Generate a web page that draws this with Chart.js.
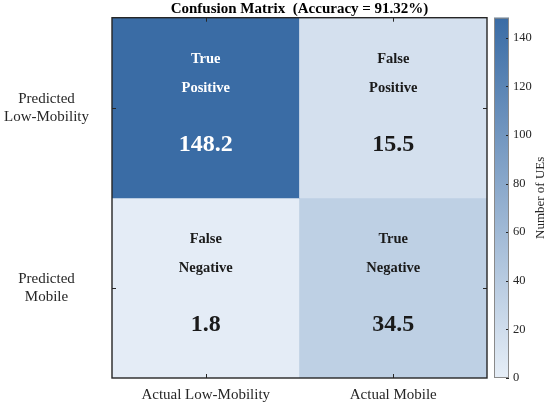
<!DOCTYPE html>
<html>
<head>
<meta charset="utf-8">
<script src="https://cdn.jsdelivr.net/npm/chart.js@4/dist/chart.umd.min.js"></script>
<style>
  html, body { margin: 0; padding: 0; background: #ffffff; }
  #wrap { width: 550px; height: 405px; position: relative; }
</style>
</head>
<body>
<div id="wrap"><canvas id="c" width="550" height="405"></canvas></div>
<script>
// ---- data ----
const chartTitle = 'Confusion Matrix  (Accuracy = 91.32%)';
const actualLabels = ['Actual Low-Mobility', 'Actual Mobile'];
const predictedLabels = [['Predicted', 'Low-Mobility'], ['Predicted', 'Mobile']];
const rowLowMobilityValues = [148.2, 15.5];
const rowMobileValues = [1.8, 34.5];
const rowLowMobilityNames = [['True', 'Positive'], ['False', 'Positive']];
const rowMobileNames = [['False', 'Negative'], ['True', 'Negative']];
const colorbarTicks = [0, 20, 40, 60, 80, 100, 120, 140];
const colorbarMin = 0;
const colorbarMax = 148.2;
const colorbarLabel = 'Number of UEs';

// ---- styles ----
const SERIF = "'Liberation Serif', 'Times New Roman', serif";
const LOW = [230, 238, 247];
const HIGH = [58, 108, 165];
const INK = '#262626';

function cmap(v) {
  const t = Math.max(0, Math.min(1, (v - colorbarMin) / (colorbarMax - colorbarMin)));
  const c = LOW.map((l, k) => Math.round(l + (HIGH[k] - l) * t));
  return `rgb(${c[0]},${c[1]},${c[2]})`;
}

const rows = [
  { values: rowLowMobilityValues, names: rowLowMobilityNames },
  { values: rowMobileValues, names: rowMobileNames }
];

const datasets = rows.map((row, r) => ({
  label: predictedLabels[r].join(' '),
  data: row.values.map((v, i) => ({ x: actualLabels[i], y: [r, r + 1], v: v, names: row.names[i] })),
  backgroundColor: row.values.map(v => cmap(v)),
  borderWidth: 0,
  barPercentage: 1.0,
  categoryPercentage: 1.0,
  grouped: false
}));

function noPadV(s) { s.paddingTop = 0; s.paddingBottom = 0; }

const overlay = {
  id: 'overlay',
  afterDatasetsDraw(chart) {
    const ctx = chart.ctx;
    const a = chart.chartArea;
    const xs = chart.scales.x, ys = chart.scales.y, cb = chart.scales.cb;
    ctx.save();
    // cell texts
    chart.data.datasets.forEach((ds, r) => {
      ds.data.forEach((d, i) => {
        const cx = xs.getPixelForValue(i);
        const top = ys.getPixelForValue(d.y[0]);
        const h = ys.getPixelForValue(d.y[1]) - top;
        ctx.fillStyle = d.v > colorbarMax / 2 ? '#ffffff' : '#1a1a1a';
        ctx.textAlign = 'center';
        ctx.textBaseline = 'middle';
        ctx.font = 'bold 14.5px ' + SERIF;
        ctx.fillText(d.names[0], cx, top + h * 0.228);
        ctx.fillText(d.names[1], cx, top + h * 0.389);
        ctx.font = 'bold 24px ' + SERIF;
        ctx.fillText(d.v.toFixed(1), cx, top + h * 0.705);
      });
    });
    // inward tick marks
    ctx.strokeStyle = INK;
    ctx.lineWidth = 1;
    ctx.beginPath();
    xs.ticks.forEach((t, i) => {
      const px = Math.round(xs.getPixelForValue(i)) + 0.5;
      ctx.moveTo(px, a.bottom); ctx.lineTo(px, a.bottom - 4);
      ctx.moveTo(px, a.top); ctx.lineTo(px, a.top + 4);
    });
    ys.ticks.forEach(t => {
      const py = Math.round(ys.getPixelForValue(t.value)) + 0.5;
      ctx.moveTo(a.left, py); ctx.lineTo(a.left + 4, py);
      ctx.moveTo(a.right, py); ctx.lineTo(a.right - 4, py);
    });
    ctx.stroke();
    // axes box
    ctx.lineWidth = 1.4;
    ctx.strokeRect(a.left, a.top, a.right - a.left, a.bottom - a.top);

    // colorbar
    const bx0 = a.right + 7, bx1 = a.right + 22;
    const yTop = cb.getPixelForValue(colorbarMax), yBot = cb.getPixelForValue(colorbarMin);
    const g = ctx.createLinearGradient(0, yBot, 0, yTop);
    g.addColorStop(0, cmap(colorbarMin));
    g.addColorStop(1, cmap(colorbarMax));
    ctx.fillStyle = g;
    ctx.fillRect(bx0, yTop, bx1 - bx0, yBot - yTop);
    ctx.strokeStyle = INK;
    ctx.lineWidth = 1;
    ctx.beginPath();
    cb.ticks.forEach(t => {
      const py = Math.round(cb.getPixelForValue(t.value)) + 0.5;
      ctx.moveTo(bx1, py); ctx.lineTo(bx1 - 3, py);
    });
    ctx.stroke();
    ctx.strokeStyle = '#8a8a8a';
    ctx.strokeRect(bx0 + 0.5, yTop + 0.5, bx1 - bx0 - 1, yBot - yTop - 1);
    // colorbar label (reads bottom to top)
    ctx.save();
    ctx.translate(a.right + 54, (yTop + yBot) / 2);
    ctx.rotate(-Math.PI / 2);
    ctx.fillStyle = INK;
    ctx.font = '13px ' + SERIF;
    ctx.textAlign = 'center';
    ctx.textBaseline = 'middle';
    ctx.fillText(colorbarLabel, 0, 0);
    ctx.restore();
    ctx.restore();
  }
};

new Chart(document.getElementById('c'), {
  type: 'bar',
  data: { labels: actualLabels, datasets: datasets },
  options: {
    responsive: false,
    animation: false,
    devicePixelRatio: 1,
    layout: { padding: { top: 0, right: 0, bottom: 0, left: 0 } },
    plugins: {
      legend: { display: false },
      tooltip: { enabled: false },
      title: {
        display: true,
        text: chartTitle,
        fullSize: false,
        color: '#000000',
        font: { family: SERIF, size: 15, weight: 'bold', lineHeight: 1.18 },
        padding: { top: 0, bottom: 0 }
      }
    },
    scales: {
      x: {
        type: 'category',
        offset: true,
        grid: { display: false, drawTicks: false },
        border: { display: false },
        ticks: { color: INK, font: { family: SERIF, size: 15, lineHeight: 1.2 }, padding: 8, maxRotation: 0 },
        afterFit(s) { s.height = 27; s.paddingLeft = 0; s.paddingRight = 0; }
      },
      y: {
        type: 'linear',
        min: 0,
        max: 2,
        reverse: true,
        grid: { display: false, drawTicks: false },
        border: { display: false },
        afterBuildTicks(s) { s.ticks = predictedLabels.map((_, i) => ({ value: i + 0.5 })); },
        ticks: {
          color: INK,
          crossAlign: 'center',
          padding: 23,
          font: { family: SERIF, size: 15, lineHeight: 1.2 },
          callback: (v, i) => predictedLabels[i]
        },
        afterFit(s) { s.width = 112; noPadV(s); }
      },
      cb: {
        type: 'linear',
        position: 'right',
        min: colorbarMin,
        max: colorbarMax,
        grid: { display: false, drawTicks: false },
        border: { display: false },
        afterBuildTicks(s) { s.ticks = colorbarTicks.map(v => ({ value: v })); },
        ticks: {
          color: INK,
          padding: 26,
          font: { family: SERIF, size: 12.5 },
          callback: v => String(v)
        },
        afterFit(s) { s.width = 63; noPadV(s); }
      }
    }
  },
  plugins: [overlay]
});
</script>
</body>
</html>
